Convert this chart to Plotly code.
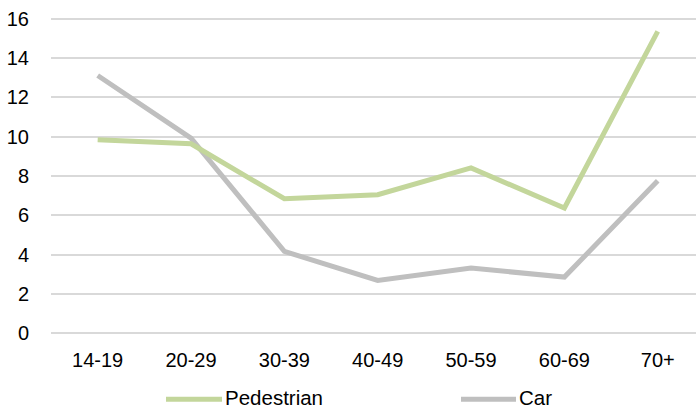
import plotly.graph_objects as go

# Age bands and rates per series
age_groups = ["14-19", "20-29", "30-39", "40-49", "50-59", "60-69", "70+"]
pedestrian = [9.85, 9.64, 6.84, 7.05, 8.41, 6.37, 15.37]
car = [13.12, 9.93, 4.16, 2.68, 3.31, 2.85, 7.76]
y_ticks = [0, 2, 4, 6, 8, 10, 12, 14, 16]

GREEN = "#C3D69B"
GREY = "#BFBFBF"
FONT = "Liberation Sans, Arial, sans-serif"

W, H = 696, 409
PLOT_L = 51
Y_TOP, Y_BOT = 17.3, 335.3      # pixel rows of the y range ends
Y_RANGE = [-0.1, 16.1]

fig = go.Figure()
fig.add_trace(go.Scatter(x=age_groups, y=car, mode="lines", name="Car",
                         line=dict(color=GREY, width=5), showlegend=False))
fig.add_trace(go.Scatter(x=age_groups, y=pedestrian, mode="lines", name="Pedestrian",
                         line=dict(color=GREEN, width=5), showlegend=False))

# Legend drawn below the plot: a wide line sample followed by its label
legend_items = [("Pedestrian", GREEN, 166, 222), ("Car", GREY, 461, 516)]
line_y = -(399.5 - Y_BOT) / (Y_BOT - Y_TOP)
text_y = -(397.5 - Y_BOT) / (Y_BOT - Y_TOP)
for name, color, x0, x1 in legend_items:
    fig.add_shape(type="line", xref="paper", yref="paper",
                  x0=(x0 - PLOT_L) / (W - PLOT_L), x1=(x1 - PLOT_L) / (W - PLOT_L),
                  y0=line_y, y1=line_y, line=dict(color=color, width=5))
    fig.add_annotation(text=name, xref="paper", yref="paper",
                       x=(x1 + 2 - PLOT_L) / (W - PLOT_L), y=text_y,
                       xanchor="left", yanchor="middle", showarrow=False,
                       borderpad=0,
                       font=dict(family=FONT, size=20.5, color="#000000"))

fig.update_layout(
    width=W, height=H,
    margin=dict(l=PLOT_L, r=0, t=Y_TOP, b=H - Y_BOT),
    paper_bgcolor="white", plot_bgcolor="white",
    font=dict(family=FONT, size=20, color="#000000"),
    xaxis=dict(type="category", range=[-0.5, 6.41], showgrid=False, zeroline=False,
               showline=False, ticks="outside", ticklen=7, tickcolor="rgba(0,0,0,0)",
               tickfont=dict(size=20)),
    yaxis=dict(range=Y_RANGE, tickvals=y_ticks, showgrid=True, gridcolor="#D9D9D9",
               gridwidth=2, zeroline=False, showline=False, ticks="outside",
               ticklen=17, tickcolor="rgba(0,0,0,0)", tickfont=dict(size=20)),
)

fig.write_html("out.html")
